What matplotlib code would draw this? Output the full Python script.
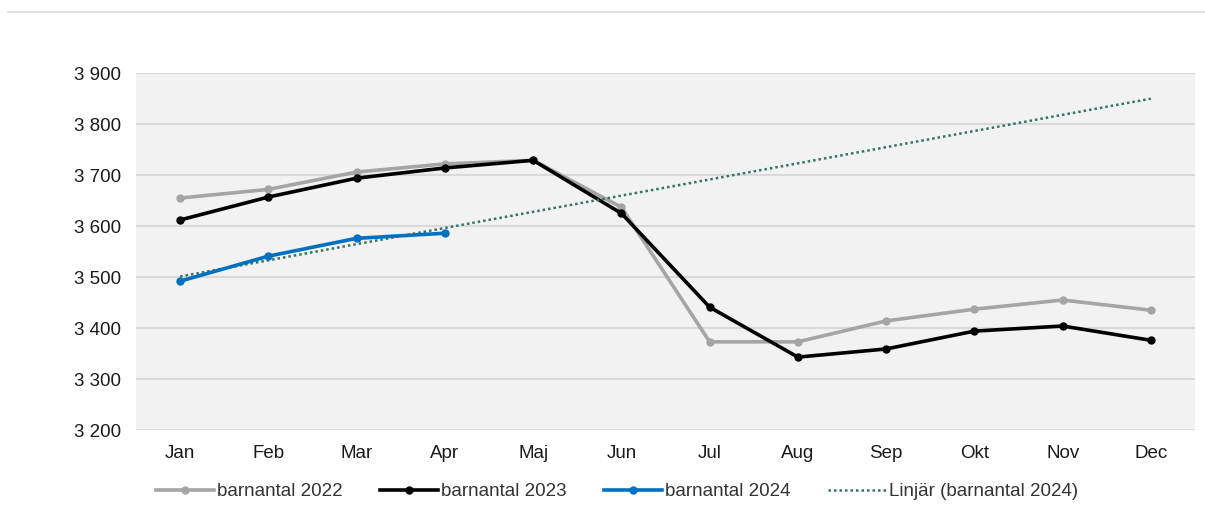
import matplotlib
matplotlib.use("Agg")
import matplotlib.pyplot as plt
from matplotlib.lines import Line2D
import numpy as np

plt.rcParams['font.family'] = ['Liberation Sans', 'DejaVu Sans']

months = ['Jan', 'Feb', 'Mar', 'Apr', 'Maj', 'Jun', 'Jul', 'Aug', 'Sep', 'Okt', 'Nov', 'Dec']
barn_2022 = [3655, 3672, 3706, 3722, 3729, 3637, 3373, 3373, 3414, 3437, 3455, 3435]
barn_2023 = [3612, 3657, 3694, 3714, 3729, 3625, 3441, 3343, 3359, 3394, 3404, 3376]
barn_2024 = [3492, 3541, 3576, 3586]
yticks = [3200, 3300, 3400, 3500, 3600, 3700, 3800, 3900]

x = np.arange(len(months))
x24 = np.arange(len(barn_2024))

# linear trend of 2024, extended over the whole year
k, m = np.polyfit(x24 + 1, barn_2024, 1)
trend = k * (x + 1) + m

fig = plt.figure(figsize=(12.05, 5.15), dpi=100)
ax = fig.add_axes([0.1129, 0.165, 0.8788, 0.693])
ax.set_facecolor('#F2F2F2')

ax.plot(x, barn_2022, color='#A5A5A5', lw=2.6, marker='o', ms=5, label='barnantal 2022', zorder=3)
ax.plot(x, barn_2023, color='#000000', lw=2.6, marker='o', ms=5, label='barnantal 2023', zorder=4)
ax.plot(x24, barn_2024, color='#0070C0', lw=2.6, marker='o', ms=5, label='barnantal 2024', zorder=5)
ax.plot(x, trend, color='#2F7466', lw=1.8, ls=(0, (1, 1.2)), label='Linjär (barnantal 2024)', zorder=4)

ax.set_xlim(-0.5, len(months) - 0.5)
ax.set_ylim(3200, 3900)
ax.set_yticks(yticks)
ax.set_yticklabels([f'{v // 1000} {v % 1000:03d}' for v in yticks])
ax.set_xticks(x)
ax.set_xticklabels(months)
ax.grid(axis='y', color='#D9D9D9', lw=1.5)
ax.set_axisbelow(True)
for s in ax.spines.values():
    s.set_visible(False)
ax.tick_params(length=0, labelsize=13.5, colors='#1A1A1A')
ax.tick_params(axis='x', pad=11)
ax.tick_params(axis='y', pad=11)

fig.legend(loc='center', bbox_to_anchor=(0.512, 0.045), ncol=4, frameon=False,
           fontsize=13.5, handlelength=3.1, handletextpad=0.15, columnspacing=2.0,
           labelcolor='#333333')

# thin rule across the top
fig.add_artist(Line2D([0.007, 1.0], [0.977, 0.977], color='#D9D9D9', lw=1.2,
                      transform=fig.transFigure))

fig.savefig('out.png', dpi=100)
